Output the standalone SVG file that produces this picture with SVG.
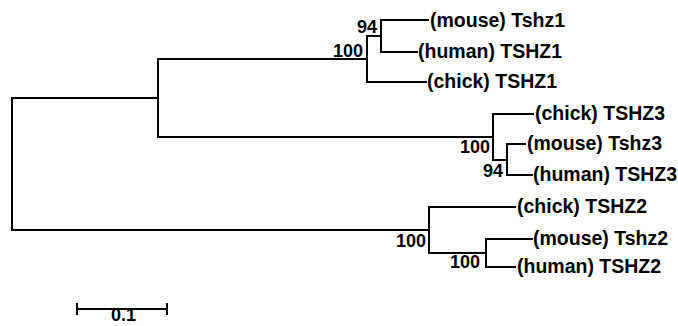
<svg xmlns="http://www.w3.org/2000/svg" width="678" height="326" viewBox="0 0 678 326">
<style>
.br{fill:none;stroke:#000;stroke-width:2;stroke-linecap:square}
.tip{font-family:"Liberation Sans",Arial,sans-serif;font-weight:bold;font-size:19.5px;fill:#000}
.bs{font-family:"Liberation Sans",Arial,sans-serif;font-weight:bold;font-size:18px;fill:#000;text-anchor:end}
</style>
<rect width="678" height="326" fill="#fff"/>
<g id="connectors">
<path class="br" d="M158,98 H12 V230 H429"/>
<path class="br" d="M367,59 H158 V137 H493"/>
<path class="br" d="M428,20 H381 V52 H417"/>
<path class="br" d="M381,36 H367 V82 H426"/>
<path class="br" d="M533,114 H493 V160 H507"/>
<path class="br" d="M525,144 H507 V175 H532"/>
<path class="br" d="M515,207 H429 V253 H486"/>
<path class="br" d="M532,239 H486 V267 H515"/>
<path class="br" d="M77,304 V314 M77,309 H167 M167,304 V314"/>
</g>
<g id="n_mouse_tshz1"><text class="tip" x="430" y="27">(mouse) Tshz1</text></g>
<g id="n_human_tshz1"><text class="tip" x="418" y="58">(human) TSHZ1</text></g>
<g id="n_chick_tshz1"><text class="tip" x="427" y="88">(chick) TSHZ1</text></g>
<g id="n_chick_tshz3"><text class="tip" x="535" y="120">(chick) TSHZ3</text></g>
<g id="n_mouse_tshz3"><text class="tip" x="527" y="150">(mouse) Tshz3</text></g>
<g id="n_human_tshz3"><text class="tip" x="533" y="181">(human) TSHZ3</text></g>
<g id="n_chick_tshz2"><text class="tip" x="517" y="213">(chick) TSHZ2</text></g>
<g id="n_mouse_tshz2"><text class="tip" x="533" y="245">(mouse) Tshz2</text></g>
<g id="n_human_tshz2"><text class="tip" x="517" y="273">(human) TSHZ2</text></g>
<g id="bootstrap">
<text class="bs" x="377" y="33">94</text>
<text class="bs" x="363" y="57">100</text>
<text class="bs" x="490" y="153">100</text>
<text class="bs" x="503" y="177">94</text>
<text class="bs" x="426" y="247">100</text>
<text class="bs" x="480" y="268">100</text>
</g>
<g id="scale"><text class="bs" x="136" y="321">0.1</text></g>
</svg>
